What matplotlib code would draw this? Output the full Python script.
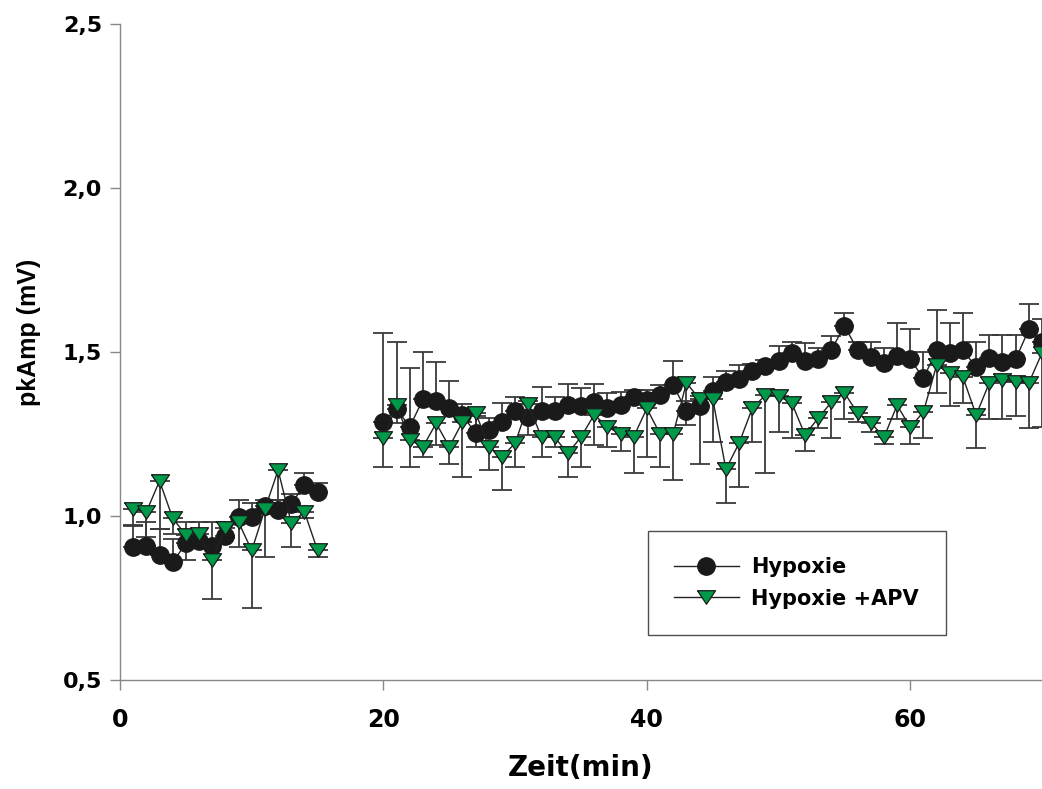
import numpy as np
import matplotlib
matplotlib.use("Agg")
import matplotlib.pyplot as plt
from matplotlib.ticker import FuncFormatter

plt.rcParams['font.family'] = ['Liberation Sans', 'DejaVu Sans']

# time points (min), before and after the gap
time_a = [1, 2, 3, 4, 5, 6, 7, 8, 9, 10, 11, 12, 13, 14, 15]
time_b = list(range(20, 71))

# Hypoxie (mean, upper error)
hyp_a = [0.905, 0.908, 0.881, 0.859, 0.917, 0.925, 0.908, 0.939, 0.998, 0.998,
         1.030, 1.018, 1.037, 1.095, 1.074]
hyp_err_a = [0.068, 0.075, 0.080, 0.070, 0.066, 0.058, 0.075, 0.044, 0.051, 0.042,
             0.020, 0.030, 0.030, 0.035, 0.026]
hyp_b = [1.286, 1.326, 1.272, 1.356, 1.352, 1.330, 1.308, 1.252, 1.262, 1.286,
         1.320, 1.301, 1.320, 1.320, 1.338, 1.337, 1.349, 1.328, 1.338, 1.364,
         1.354, 1.369, 1.399, 1.320, 1.335, 1.382, 1.409, 1.418, 1.443, 1.457,
         1.473, 1.496, 1.474, 1.478, 1.506, 1.580, 1.506, 1.484, 1.468, 1.488,
         1.478, 1.420, 1.506, 1.498, 1.506, 1.453, 1.481, 1.470, 1.478, 1.569,
         1.531]
hyp_err_b = [0.273, 0.204, 0.180, 0.144, 0.118, 0.083, 0.033, 0.053, 0.038, 0.058,
             0.042, 0.050, 0.074, 0.042, 0.064, 0.053, 0.053, 0.046, 0.040, 0.020,
             0.030, 0.030, 0.074, 0.030, 0.030, 0.041, 0.034, 0.042, 0.020, 0.020,
             0.045, 0.035, 0.054, 0.033, 0.044, 0.038, 0.024, 0.046, 0.043, 0.101,
             0.091, 0.081, 0.122, 0.091, 0.114, 0.078, 0.071, 0.082, 0.074, 0.079,
             0.069]

# Hypoxie + APV (mean, lower error)
apv_a = [1.021, 1.013, 1.107, 0.993, 0.942, 0.944, 0.866, 0.964, 0.981, 0.895,
         1.021, 1.140, 0.979, 1.013, 0.895]
apv_err_a = [0.050, 0.078, 0.145, 0.049, 0.076, 0.030, 0.119, 0.030, 0.075, 0.176,
             0.145, 0.091, 0.074, 0.020, 0.019]
apv_b = [1.237, 1.338, 1.232, 1.211, 1.283, 1.211, 1.287, 1.315, 1.211, 1.181,
         1.222, 1.341, 1.240, 1.240, 1.191, 1.241, 1.309, 1.272, 1.250, 1.242,
         1.328, 1.250, 1.250, 1.406, 1.357, 1.357, 1.143, 1.222, 1.328, 1.369,
         1.365, 1.345, 1.248, 1.298, 1.347, 1.376, 1.313, 1.285, 1.240, 1.338,
         1.270, 1.318, 1.460, 1.435, 1.423, 1.308, 1.406, 1.415, 1.409, 1.406,
         1.497]
apv_err_b = [0.087, 0.053, 0.082, 0.030, 0.067, 0.052, 0.167, 0.104, 0.071, 0.102,
             0.072, 0.094, 0.061, 0.031, 0.071, 0.091, 0.091, 0.061, 0.051, 0.112,
             0.149, 0.100, 0.140, 0.129, 0.197, 0.130, 0.102, 0.133, 0.101, 0.239,
             0.108, 0.108, 0.049, 0.031, 0.110, 0.081, 0.025, 0.028, 0.020, 0.043,
             0.050, 0.081, 0.086, 0.100, 0.079, 0.102, 0.111, 0.120, 0.104, 0.139,
             0.227]

y_ticks = [0.5, 1.0, 1.5, 2.0, 2.5]
x_ticks = [0, 20, 40, 60]

green = '#00994a'
tri = [(-1, 0.75), (1, 0.75), (0, -0.75), (-1, 0.75)]

fig = plt.figure(figsize=(10.42, 7.89), dpi=100)
ax = fig.add_axes([0.1152, 0.1381, 0.8848, 0.8314])

for t, m, e in [(time_a, hyp_a, hyp_err_a), (time_b, hyp_b, hyp_err_b)]:
	ax.errorbar(t, m, yerr=[np.zeros(len(e)), e], fmt='none', ecolor='#3a3a3a',
		elinewidth=1.3, capsize=7, capthick=1.3, zorder=2)
for t, m, e in [(time_a, apv_a, apv_err_a), (time_b, apv_b, apv_err_b)]:
	ax.errorbar(t, m, yerr=[e, np.zeros(len(e))], fmt='none', ecolor='#3a3a3a',
		elinewidth=1.3, capsize=7, capthick=1.3, zorder=2)

for i, (t, m) in enumerate([(time_a, hyp_a), (time_b, hyp_b)]):
	ax.plot(t, m, color='#222222', lw=1.0, marker='o', ms=12.5, mfc='#1a1a1a',
		mec='#1a1a1a', zorder=3, label='Hypoxie' if i == 0 else None)
for i, (t, m) in enumerate([(time_a, apv_a), (time_b, apv_b)]):
	ax.plot(t, m, color='#222222', lw=1.0, marker=tri, ms=13, mfc=green,
		mec='#1a1a1a', mew=0.9, zorder=4, label='Hypoxie +APV' if i == 0 else None)

ax.set_xlim(0, 70)
ax.set_ylim(0.5, 2.5)
ax.set_xticks(x_ticks)
ax.set_yticks(y_ticks)
ax.yaxis.set_major_formatter(FuncFormatter(lambda v, p: ('%.1f' % v).replace('.', ',')))

for s in ['top', 'right']:
	ax.spines[s].set_visible(False)
for s in ['left', 'bottom']:
	ax.spines[s].set_color('#888888')
	ax.spines[s].set_linewidth(1.0)
ax.tick_params(axis='both', direction='out', color='#888888', length=7, width=1.0)
ax.tick_params(axis='y', pad=6)
ax.tick_params(axis='x', pad=13)
for lab in ax.get_yticklabels():
	lab.set_fontsize(16)
	lab.set_fontweight('heavy')
	lab.set_family(['DejaVu Sans'])
for lab in ax.get_xticklabels():
	lab.set_fontsize(17)
	lab.set_fontweight('bold')
	lab.set_family(['Liberation Sans Narrow', 'DejaVu Sans'])

ax.set_ylabel('pkAmp (mV)', fontsize=18, fontweight='bold')
ax.yaxis.set_label_coords(-0.086, 0.53)
ax.set_xlabel('Zeit(min)', fontsize=20, fontweight='bold', labelpad=16,
	family=['Liberation Sans Narrow', 'DejaVu Sans'])

leg = ax.legend(loc='upper left', bbox_to_anchor=(0.5727, 0.2271, 0.3232, 0.0),
	mode='expand', fancybox=False, frameon=True, borderpad=1.25, labelspacing=0.55,
	handlelength=3.1, handletextpad=0.6, borderaxespad=0,
	prop={'size': 15, 'weight': 'bold', 'family': ['Liberation Sans Narrow', 'DejaVu Sans']})
leg.get_frame().set_edgecolor('#222222')
leg.get_frame().set_linewidth(1.0)

fig.savefig('out.png', dpi=100)
